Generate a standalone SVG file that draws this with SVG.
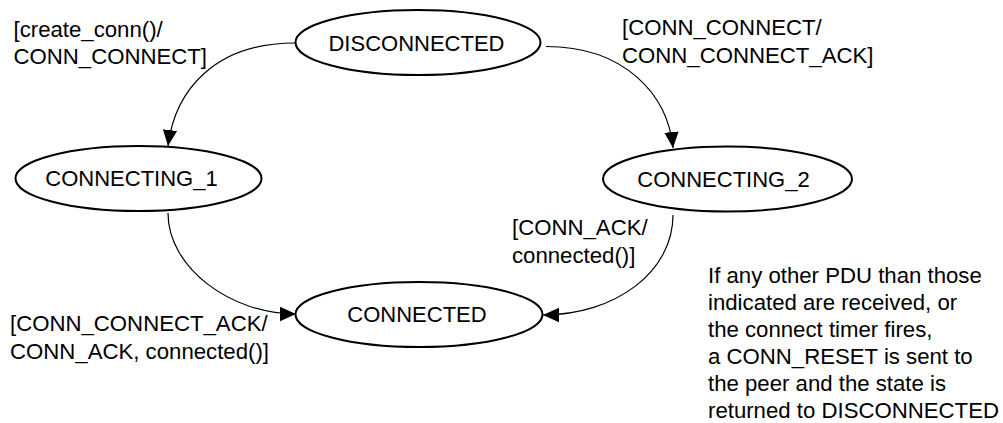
<svg xmlns="http://www.w3.org/2000/svg" width="1003" height="423" viewBox="0 0 1003 423">
<style>
.node ellipse{fill:#fff;stroke:#000;stroke-width:2}
.node text{font-family:"Liberation Sans",Arial,sans-serif;font-size:22px;fill:#000;text-anchor:middle}
.lbl{font-family:"Liberation Sans",Arial,sans-serif;font-size:22.2px;fill:#000}
.edge{fill:none;stroke:#000;stroke-width:1.2}
</style>
<defs>
<marker id="arr" markerUnits="userSpaceOnUse" markerWidth="16" markerHeight="16" viewBox="0 0 15 14" refX="15" refY="7" orient="auto">
<path d="M0,0.3 L15,7 L0,13.7 Z" fill="#000"/>
</marker>
</defs>
<g id="connectors">
<path class="edge" d="M295,43 C215,43 175,90 168,146" marker-end="url(#arr)"/>
<path class="edge" d="M546,46.5 C625,46.5 668,95 673,148" marker-end="url(#arr)"/>
<path class="edge" d="M168,213 C168,268 231,314 296,314" marker-end="url(#arr)"/>
<path class="edge" d="M673,215 C673,272 615,315 543,315" marker-end="url(#arr)"/>
</g>
<g id="DISCONNECTED" class="node">
<ellipse cx="418" cy="42.5" rx="122.5" ry="32.5"/>
<text x="416.5" y="50.5">DISCONNECTED</text>
</g>
<g id="CONNECTING_1" class="node">
<ellipse cx="138.5" cy="178.5" rx="123" ry="32.5"/>
<text x="131.5" y="185.5">CONNECTING_1</text>
</g>
<g id="CONNECTING_2" class="node">
<ellipse cx="727.5" cy="179" rx="124.5" ry="32.5"/>
<text x="723.5" y="186.5">CONNECTING_2</text>
</g>
<g id="CONNECTED" class="node">
<ellipse cx="419" cy="314.5" rx="123.5" ry="32.5"/>
<text x="417" y="321.5">CONNECTED</text>
</g>
<g id="labels">
<text class="lbl" x="13.5" y="36.5">[create_conn()/</text>
<text class="lbl" x="13.5" y="64">CONN_CONNECT]</text>
<text class="lbl" x="622" y="35">[CONN_CONNECT/</text>
<text class="lbl" x="622" y="62.5">CONN_CONNECT_ACK]</text>
<text class="lbl" x="512" y="235">[CONN_ACK/</text>
<text class="lbl" x="512" y="262.5">connected()]</text>
<text class="lbl" x="10" y="331">[CONN_CONNECT_ACK/</text>
<text class="lbl" x="10" y="359">CONN_ACK, connected()]</text>
</g>
<g id="note">
<text class="lbl" x="708" y="282.5">If any other PDU than those</text>
<text class="lbl" x="708" y="309.5">indicated are received, or</text>
<text class="lbl" x="708" y="336.5">the connect timer fires,</text>
<text class="lbl" x="708" y="363.5">a CONN_RESET is sent to</text>
<text class="lbl" x="708" y="390.5">the peer and the state is</text>
<text class="lbl" x="708" y="417.5">returned to DISCONNECTED</text>
</g>
</svg>
